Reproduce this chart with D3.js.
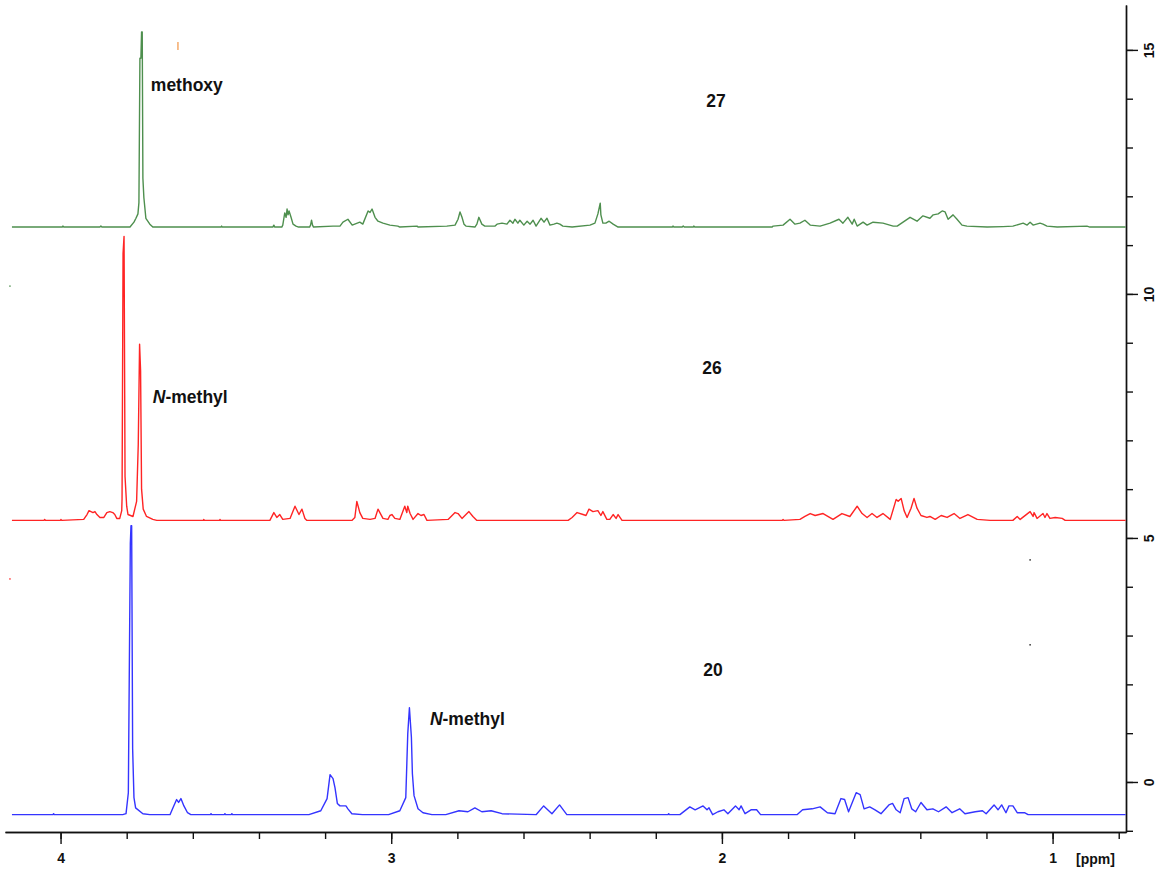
<!DOCTYPE html>
<html>
<head>
<meta charset="utf-8">
<script src="https://cdn.jsdelivr.net/npm/d3@7"></script>
<style>
  body { margin: 0; background: #fff; }
  svg { display: block; font-family: "Liberation Sans", Arial, sans-serif; }
  .lbl { font-weight: bold; font-size: 17.5px; fill: #111; }
  .axis text { font-weight: bold; font-size: 14px; fill: #111; font-family: "Liberation Sans", Arial, sans-serif; }
  .axis path, .axis line { stroke: #111; stroke-width: 1.4; }
</style>
</head>
<body>
<script>
// spectra as [ppm, intensity above own baseline]
const spec27 = [
  [4.147,0],[3.995,0],[3.993,0.02],[3.990,0],[3.881,0],[3.878,0.02],[3.875,0],
  [3.790,0],[3.778,0.10],[3.772,0.18],[3.766,0.27],[3.763,0.5],[3.760,3.46],[3.757,3.46],
  [3.755,4.0],[3.753,4.0],[3.751,1.0],[3.748,0.6],[3.742,0.18],[3.730,0.06],[3.721,0],
  [3.515,0],[3.513,0.02],[3.511,0],[3.358,0],[3.355,0.04],[3.352,0],
  [3.331,0],[3.328,0.04],[3.322,0.29],[3.318,0.2],[3.315,0.37],[3.312,0.25],[3.309,0.33],
  [3.303,0.2],[3.297,0.06],[3.288,0.02],[3.280,0],
  [3.247,0],[3.244,0.04],[3.241,0.14],[3.238,0.04],[3.235,0],
  [3.176,0.02],[3.155,0.02],[3.146,0.10],[3.131,0.16],[3.118,0.04],[3.095,0.1],[3.086,0.06],
  [3.070,0.33],[3.064,0.30],[3.058,0.37],[3.049,0.2],[3.040,0.12],[3.025,0.08],[3.004,0.04],
  [2.980,0.02],[2.974,0],[2.922,0.02],[2.919,0],[2.832,0.02],
  [2.807,0.04],[2.798,0.16],[2.792,0.31],[2.786,0.2],[2.780,0.06],[2.774,0.02],[2.747,0],
  [2.741,0.06],[2.735,0.2],[2.726,0.06],[2.717,0.02],[2.686,0.02],[2.680,0.06],[2.665,0.08],
  [2.650,0.06],[2.641,0.14],[2.632,0.08],[2.626,0.16],[2.617,0.08],[2.611,0.14],[2.599,0.04],
  [2.589,0.12],[2.580,0.06],[2.571,0.14],[2.562,0.02],[2.547,0.18],[2.538,0.1],[2.529,0.18],
  [2.520,0.04],[2.508,0.06],[2.499,0.08],[2.490,0.06],[2.481,0.02],[2.453,0],
  [2.399,0.04],[2.384,0.08],[2.375,0.27],[2.368,0.49],[2.366,0.25],[2.360,0.08],[2.351,0.08],
  [2.341,0.12],[2.329,0.06],[2.314,0],
  [2.150,0],[2.148,0.02],[2.145,0],[2.120,0],[2.117,0.02],[2.114,0],[2.087,0],[2.085,0.02],[2.082,0],
  [1.848,0],[1.845,0.02],[1.815,0.04],[1.794,0.16],[1.779,0.06],[1.764,0.08],[1.749,0.14],
  [1.733,0.04],[1.703,0.02],[1.673,0.08],[1.646,0.16],[1.634,0.08],[1.619,0.2],[1.606,0.06],
  [1.600,0.16],[1.591,0.02],[1.573,0.1],[1.561,0.04],[1.543,0.1],[1.513,0.08],[1.482,0.02],
  [1.470,0.02],[1.431,0.2],[1.410,0.12],[1.392,0.23],[1.371,0.18],[1.361,0.25],[1.346,0.27],
  [1.334,0.33],[1.325,0.31],[1.316,0.16],[1.301,0.25],[1.289,0.16],[1.274,0.04],[1.259,0.02],
  [1.198,0],[1.150,0.01],[1.120,0.02],[1.089,0.08],[1.077,0.04],[1.068,0.1],[1.059,0.04],
  [1.038,0.08],[1.029,0.06],[1.017,0.02],[0.986,0],[0.896,0.02],[0.887,0],[0.779,0]
];
const spec26 = [
  [4.147,0],[4.050,0],[4.048,0.02],[4.045,0],[4.000,0],[3.999,0.02],[3.996,0],
  [3.930,0.02],[3.920,0.12],[3.914,0.2],[3.908,0.18],[3.902,0.16],[3.896,0.18],[3.890,0.12],
  [3.881,0.06],[3.869,0.06],[3.860,0.16],[3.851,0.18],[3.842,0.16],[3.836,0.12],[3.830,0.04],
  [3.821,0.04],[3.815,0.2],[3.814,0.45],[3.811,5.47],[3.808,5.82],[3.805,0.9],[3.800,0.29],
  [3.796,0.12],[3.781,0.08],[3.770,0.39],[3.765,1.56],[3.762,3.11],[3.761,3.61],[3.758,3.07],
  [3.755,0.64],[3.750,0.23],[3.740,0.08],[3.721,0.02],[3.709,0],
  [3.568,0],[3.567,0.02],[3.565,0],[3.519,0],[3.518,0.02],[3.516,0],
  [3.367,0],[3.355,0.16],[3.346,0.06],[3.337,0.12],[3.328,0.02],[3.306,0.04],[3.291,0.29],
  [3.279,0.12],[3.270,0.23],[3.261,0.04],[3.255,0],
  [3.119,0],[3.110,0.06],[3.104,0.39],[3.095,0.16],[3.086,0.04],[3.064,0.02],[3.049,0.04],
  [3.040,0.23],[3.025,0.04],[3.010,0.02],[3.004,0.1],[2.998,0.12],[2.989,0.04],[2.974,0.02],
  [2.959,0.29],[2.953,0.16],[2.950,0.29],[2.943,0.14],[2.934,0.02],[2.919,0.14],[2.910,0.1],
  [2.901,0.12],[2.892,0],
  [2.828,0.02],[2.807,0.16],[2.798,0.14],[2.786,0.04],[2.765,0.18],[2.753,0.08],[2.741,0],
  [2.465,0],[2.453,0.06],[2.438,0.16],[2.420,0.12],[2.411,0.1],[2.402,0.23],[2.390,0.18],
  [2.375,0.2],[2.366,0.1],[2.360,0.18],[2.348,0.02],[2.339,0.02],[2.329,0.12],[2.320,0.04],
  [2.314,0.12],[2.302,0],
  [1.818,0],[1.815,0.02],[1.812,0],[1.764,0.02],[1.749,0.08],[1.733,0.14],[1.718,0.1],
  [1.694,0.14],[1.664,0.02],[1.637,0.14],[1.613,0.08],[1.591,0.29],[1.576,0.14],[1.561,0.06],
  [1.546,0.14],[1.531,0.06],[1.513,0.14],[1.491,0.02],[1.473,0.43],[1.467,0.39],[1.458,0.45],
  [1.449,0.2],[1.440,0.06],[1.428,0.25],[1.419,0.45],[1.410,0.25],[1.398,0.1],[1.380,0.06],
  [1.371,0.08],[1.355,0.02],[1.337,0.1],[1.319,0.06],[1.298,0.14],[1.280,0.04],[1.256,0.12],
  [1.228,0.02],[1.189,0],
  [1.120,0],[1.107,0.08],[1.098,0.02],[1.068,0.18],[1.059,0.08],[1.056,0.16],[1.047,0.04],
  [1.029,0.14],[1.023,0.06],[1.017,0.14],[1.008,0.04],[0.992,0.06],[0.971,0.04],[0.962,0],
  [0.779,0]
];
const spec20 = [
  [4.147,0],[4.023,0],[4.021,0.02],[4.019,0],
  [3.812,0],[3.802,0.02],[3.795,0.45],[3.789,5.55],[3.787,5.92],[3.785,5.92],[3.782,1.35],
  [3.778,0.35],[3.773,0.14],[3.751,0.02],[3.730,0],
  [3.669,0],[3.660,0.14],[3.649,0.31],[3.643,0.25],[3.636,0.33],[3.627,0.18],[3.616,0.04],[3.606,0],
  [3.547,0],[3.545,0.02],[3.543,0],[3.505,0],[3.503,0.02],[3.501,0],[3.484,0],[3.482,0.02],[3.480,0],
  [3.249,0],[3.213,0.08],[3.194,0.33],[3.185,0.82],[3.176,0.74],[3.170,0.55],[3.163,0.23],
  [3.155,0.18],[3.137,0.18],[3.131,0.12],[3.119,0.02],[3.087,0],
  [3.008,0],[2.974,0.08],[2.956,0.35],[2.950,1.66],[2.945,2.19],[2.939,1.58],[2.936,0.84],
  [2.931,0.39],[2.919,0.12],[2.904,0.04],[2.877,0],
  [2.835,0],[2.795,0.08],[2.768,0.06],[2.747,0.14],[2.726,0.06],[2.698,0.08],[2.665,0.02],
  [2.562,0],[2.539,0.18],[2.514,0.02],[2.491,0.2],[2.469,0],
  [2.163,0],[2.161,0.02],[2.159,0],[2.127,0],[2.097,0.16],[2.081,0.1],[2.057,0.18],[2.045,0.1],
  [2.039,0.14],[2.028,0],[2.012,0.06],[1.994,0.1],[1.982,0.02],[1.959,0.18],[1.948,0.1],
  [1.942,0.18],[1.930,0.02],[1.912,0.1],[1.895,0.1],[1.883,0],
  [1.773,0],[1.756,0.1],[1.727,0.12],[1.703,0.16],[1.681,0.04],[1.658,0.02],[1.640,0.33],
  [1.629,0.31],[1.617,0.06],[1.594,0.45],[1.582,0.41],[1.570,0.12],[1.553,0.16],[1.537,0.1],
  [1.519,0.02],[1.495,0.2],[1.484,0.23],[1.473,0.1],[1.461,0.04],[1.449,0.33],[1.437,0.35],
  [1.426,0.12],[1.414,0.06],[1.398,0.25],[1.380,0.1],[1.362,0.12],[1.345,0.06],[1.322,0.16],
  [1.304,0.04],[1.281,0.12],[1.265,0.02],[1.234,0.06],[1.212,0.08],[1.201,0.02],[1.177,0.2],
  [1.165,0.1],[1.154,0.2],[1.141,0.04],[1.132,0.18],[1.120,0.18],[1.107,0.04],[1.085,0.04],
  [1.074,0],[0.779,0]
];

const spectra = [
  { name: "27", data: spec27, offset: 11.37, color: "#4e8f4e" },
  { name: "26", data: spec26, offset: 5.36, color: "#ff2424" },
  { name: "20", data: spec20, offset: -0.67, color: "#3434ff" }
];

const xMajor = [4, 3, 2, 1];
const xMinor = d3.range(8, 42, 2).map(v => v / 10);
const yMajor = [0, 5, 10, 15];
const yMinor = d3.range(-1, 16);

// compound numbers and peak notes: [text, ppm, intensity]
const compoundLabels = [["27", 2.018, 13.83], ["26", 2.03, 8.36], ["20", 2.027, 2.18]];
const noteLabels = [
  ["methoxy", 3.727, 14.15, false],
  ["-methyl", 3.721, 7.77, true],
  ["-methyl", 2.883, 1.17, true]
];

// stray specks in the original plot: [ppm, intensity, color]
const specks = [
  [3.645, 15.08, "#f4a460"], [4.153, 10.16, "#4e8f4e"], [4.153, 4.16, "#ff2424"],
  [1.068, 4.55, "#111"], [1.068, 2.81, "#111"]
];

const width = 1160, height = 869;
const svg = d3.select("body").append("svg")
  .attr("width", width)
  .attr("height", height);

const x = d3.scaleLinear().domain([4.168, 0.778]).range([5, 1126]);
const y = d3.scaleLinear().domain([-1.025, 15.92]).range([832, 5]);

// x axis: minor ticks first, then majors with labels
svg.append("g")
  .attr("class", "axis")
  .attr("transform", "translate(0,832)")
  .call(d3.axisBottom(x).tickValues(xMinor).tickSize(7).tickSizeOuter(0).tickFormat(""));
svg.append("g")
  .attr("class", "axis")
  .attr("transform", "translate(0,832)")
  .call(d3.axisBottom(x).tickValues(xMajor).tickSize(12).tickSizeOuter(0).tickPadding(9).tickFormat(d3.format("d")));

svg.append("text")
  .attr("x", 1076).attr("y", 864)
  .style("font-weight", "bold").style("font-size", "14px").attr("fill", "#111")
  .text("[ppm]");

// right y axis
svg.append("g")
  .attr("class", "axis")
  .attr("transform", "translate(1126,0)")
  .call(d3.axisRight(y).tickValues(yMinor).tickSize(7).tickSizeOuter(0).tickFormat(""));
const yAx = svg.append("g")
  .attr("class", "axis")
  .attr("transform", "translate(1126,0)")
  .call(d3.axisRight(y).tickValues(yMajor).tickSize(12).tickSizeOuter(0).tickFormat(d3.format("d")));
yAx.selectAll(".tick text")
  .attr("x", 0).attr("dy", null)
  .attr("text-anchor", "middle")
  .attr("transform", "translate(24,0) rotate(-90)")
  .attr("dominant-baseline", "middle");

// spectra
spectra.forEach(s => {
  const line = d3.line()
    .x(d => x(d[0]))
    .y(d => y(d[1] + s.offset));
  svg.append("path")
    .datum(s.data)
    .attr("fill", "none")
    .attr("stroke", s.color)
    .attr("stroke-width", 1.4)
    .attr("stroke-linejoin", "round")
    .attr("d", line);
});

svg.selectAll("rect.speck")
  .data(specks)
  .enter().append("rect")
  .attr("class", "speck")
  .attr("x", d => x(d[0]) - 0.7)
  .attr("y", d => y(d[1]) - (d[2] === "#f4a460" ? 4 : 0.7))
  .attr("width", 1.4)
  .attr("height", d => d[2] === "#f4a460" ? 8 : 1.4)
  .attr("fill", d => d[2]);

// labels
compoundLabels.forEach(l => {
  svg.append("text").attr("class", "lbl")
    .attr("x", x(l[1])).attr("y", y(l[2]))
    .attr("text-anchor", "middle")
    .text(l[0]);
});
noteLabels.forEach(l => {
  const t = svg.append("text").attr("class", "lbl")
    .attr("x", x(l[1])).attr("y", y(l[2]));
  if (l[3]) t.append("tspan").style("font-style", "italic").text("N");
  t.append("tspan").text(l[0]);
});
</script>
</body>
</html>
